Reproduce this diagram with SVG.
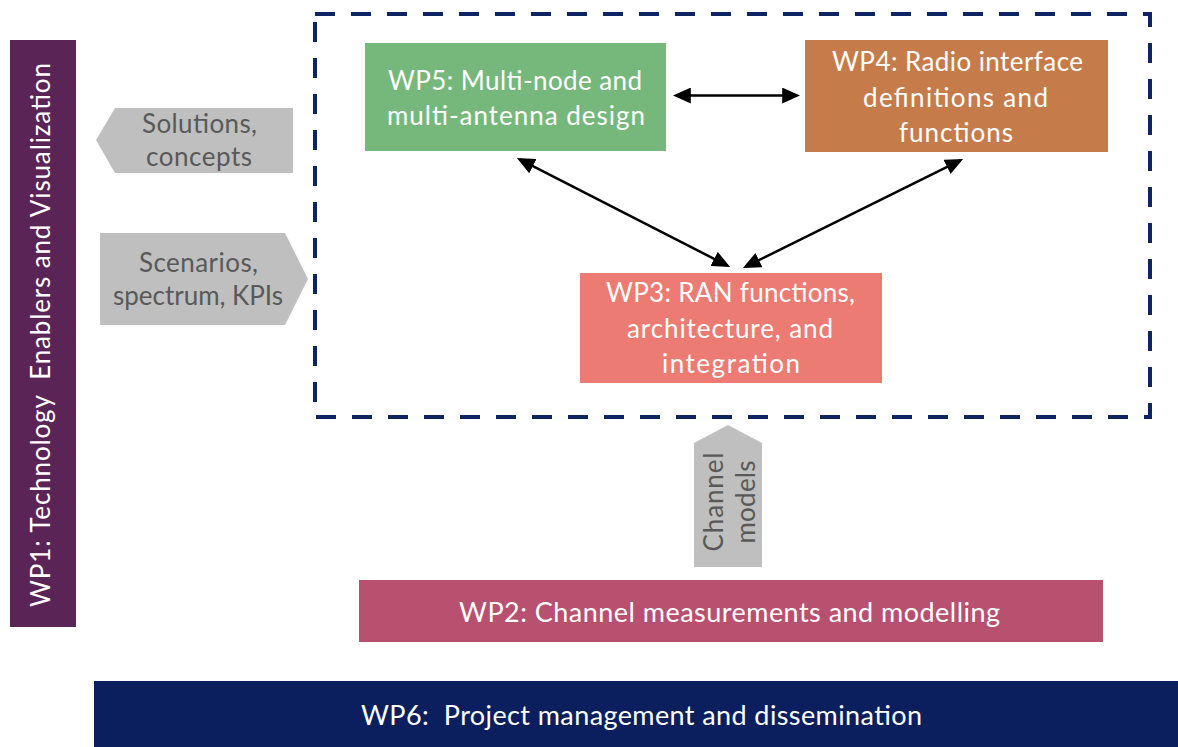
<svg xmlns="http://www.w3.org/2000/svg" width="1178" height="747" viewBox="0 0 1178 747">
<defs>
<style>
.t{font-family:Lato,"Open Sans","Liberation Sans",sans-serif;font-size:26px;fill:#ffffff;text-anchor:middle}
.g{font-family:Lato,"Open Sans","Liberation Sans",sans-serif;font-size:26px;fill:#595959;text-anchor:middle}
.gray{fill:#bfbfbf}
.conn{stroke:#000;stroke-width:2.5;fill:none;marker-start:url(#ah);marker-end:url(#ah)}
</style>
<marker id="ah" markerUnits="userSpaceOnUse" markerWidth="18" markerHeight="16" refX="14" refY="7.5" orient="auto-start-reverse" viewBox="0 0 17 15">
<path d="M0,0 L17,7.5 L0,15 z" fill="#000"/>
</marker>
</defs>
<rect width="1178" height="747" fill="#ffffff"/>

<g id="wp1">
<rect x="10" y="40" width="66" height="587" fill="#5b2457"/>
<text class="t" transform="translate(50,335) rotate(-90)" textLength="544" xml:space="preserve">WP1: Technology  Enablers and Visualization</text>
</g>

<g id="solutions">
<polygon class="gray" points="96,140 115,108 293,108 293,173 115,173"/>
<text class="g" x="199.5" y="133" textLength="115">Solutions,</text>
<text class="g" x="199" y="166" textLength="106">concepts</text>
</g>

<g id="scenarios">
<polygon class="gray" points="100,233 285,233 308,279 285,325 100,325"/>
<text class="g" x="198.5" y="272" textLength="119">Scenarios,</text>
<text class="g" x="198" y="305" textLength="170">spectrum, KPIs</text>
</g>

<g id="scope">
<rect x="315" y="14" width="835" height="403" fill="none" stroke="#0d2560" stroke-width="4" stroke-dasharray="20 16"/>
</g>

<g id="wp5">
<rect x="365" y="43" width="301" height="108" fill="#76b87b"/>
<text class="t" x="515" y="90" textLength="254">WP5: Multi-node and</text>
<text class="t" x="516" y="125" textLength="258">multi-antenna design</text>
</g>

<g id="wp4">
<rect x="805" y="40" width="303" height="112" fill="#c67c4a"/>
<text class="t" x="957.5" y="71" textLength="251">WP4: Radio interface</text>
<text class="t" x="955.5" y="107" textLength="185">definitions and</text>
<text class="t" x="956" y="142" textLength="114">functions</text>
</g>

<g id="wp3">
<rect x="580" y="273" width="302" height="110" fill="#ec7b73"/>
<text class="t" x="730.5" y="302" textLength="249">WP3: RAN functions,</text>
<text class="t" x="730" y="338" textLength="206">architecture, and</text>
<text class="t" x="731" y="373" textLength="138">integration</text>
</g>

<g id="channel">
<polygon class="gray" points="694,443 728,425 762,443 762,567 694,567"/>
<text class="g" transform="translate(723,502) rotate(-90)" textLength="99">Channel</text>
<text class="g" transform="translate(755,502) rotate(-90)" textLength="83">models</text>
</g>

<g id="wp2">
<rect x="359" y="580" width="744" height="62" fill="#b85070"/>
<text class="t" x="729.5" y="622" style="font-size:27px" textLength="541">WP2: Channel measurements and modelling</text>
</g>

<g id="wp6">
<rect x="94" y="681" width="1084" height="66" fill="#0b1f5e"/>
<text class="t" x="641.5" y="725" style="font-size:27px" textLength="561" xml:space="preserve">WP6:  Project management and dissemination</text>
</g>

<g id="connectors">
<path class="conn" d="M676,95.5 L797,95.5"/>
<path class="conn" d="M519.7,159.4 L727.3,265.6"/>
<path class="conn" d="M745.7,266.7 L960.3,160.3"/>
</g>
</svg>
